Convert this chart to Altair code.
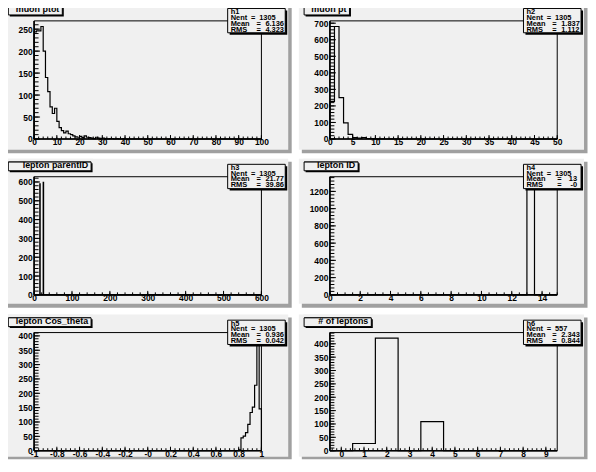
import altair as alt
import numpy as np
import pandas as pd

FONT = "Liberation Sans"
PAD = "#f0f0f0"
SHADOW = "#a0a0a0"
W, H = 229, 119

# ---------------- values ----------------
titles = ["muon ptot", "muon pt", "lepton parentID", "lepton ID", "lepton Cos_theta", "# of leptons"]
hist_names = ["h1", "h2", "h3", "h4", "h5", "h6"]
stat_nent = ["1305", "1305", "1305", "1305", "1305", "557"]
stat_mean = ["6.136", "1.837", "21.77", "13", "0.9369", "2.343"]
stat_rms = ["4.323", "1.112", "39.86", "-0", "0.0427", "0.8448"]

# (low edge, high edge, number of bins)
hist_ranges = [(0, 100, 100), (0, 50, 50), (0, 600, 600), (0, 15, 30), (-1, 1, 100), (-0.5, 9.5, 10)]

ptot_counts = [244, 246, 246, 256, 200, 140, 108, 73, 58, 70,
               40, 26, 19, 14, 18, 12, 10, 7, 5, 4,
               6, 3, 7, 4, 3, 2, 1, 4, 2, 1,
               2, 1, 0, 1, 1, 0, 1, 0, 0, 1]
pt_counts = [228, 680, 250, 97, 28, 8, 5, 9, 3, 2, 1, 1, 0, 1]
parent_counts = {15: 590, 24: 598}          # bin index -> entries
lepid_counts = {26: 1305}
cos_counts = {90: 3, 91: 45, 92: 51, 93: 63, 94: 92, 95: 133, 96: 152, 97: 228, 98: 392, 99: 146}
nlep_counts = [0, 27, 421, 0, 109, 0, 0, 0, 0, 0]
raw_counts = [ptot_counts, pt_counts, parent_counts, lepid_counts, cos_counts, nlep_counts]

# axis label ranges (first, last, step) and minor tick steps
x_label_spec = [(0, 100, 10), (0, 50, 5), (0, 600, 100), (0, 14, 2), (-1, 1, 0.2), (0, 9, 1)]
x_minus_zero = [False, False, False, False, True, False]
x_minor_step = [2, 1, 20, 0.5, 0.04, 0.2]
y_major_step = [50, 100, 100, 200, 50, 50]
y_minor_step = [10, 20, 20, 40, 10, 10]

# ---------------- layout constants (pixels, relative to each frame) ----------------
title_right = [28.4, 19.7, 57.4, 28.4, 57.4, 41.7]
pad_x = (-31.3, 256.0, 259.5)
pad_top = [-16.3, -18.0, -18.3]
pad_bot = [H + 10.7, H + 9.0, H + 6.0]
pad_shadow_bot = [H + 14.4, H + 13.0, H + 8.7]


def dense(n, vals):
    arr = [0] * n
    if isinstance(vals, dict):
        for k, v in vals.items():
            arr[k] = v
    else:
        for k, v in enumerate(vals):
            arr[k] = v
    return arr


def ticks(lo, hi, step):
    k0 = int(np.ceil(lo / step - 1e-9))
    k1 = int(np.floor(hi / step + 1e-9))
    return [round(k * step, 6) for k in range(k0, k1 + 1)]


def outline(lo, hi, counts):
    n = len(counts)
    w = (hi - lo) / n
    xs, ys = [lo], [0]
    for i, c in enumerate(counts):
        a = lo + i * w
        xs += [a, a + w]
        ys += [c, c]
    xs.append(hi)
    ys.append(0)
    return pd.DataFrame({"x": np.round(xs, 6), "y": ys, "o": range(len(xs))})


one = pd.DataFrame({"k": [0]})


def box(x, x2, y, y2, **kw):
    return alt.Chart(one).mark_rect(**kw).encode(
        x=alt.value(x), x2=alt.value(x2), y=alt.value(y), y2=alt.value(y2))


def hline(x, x2, y, width=1.0):
    return alt.Chart(one).mark_rule(color="black", strokeWidth=width).encode(
        x=alt.value(x), x2=alt.value(x2), y=alt.value(y))


def vline(x, y, y2, width=1.0):
    return alt.Chart(one).mark_rule(color="black", strokeWidth=width).encode(
        x=alt.value(x), y=alt.value(y), y2=alt.value(y2))


def label(text, x, y, align="left", size=8, **kw):
    return alt.Chart(one).mark_text(
        text=text, align=align, baseline="alphabetic", font=FONT, fontSize=size,
        fontWeight="bold", color="black", **kw).encode(x=alt.value(x), y=alt.value(y))


def panel(i):
    lo, hi, n = hist_ranges[i]
    counts = dense(n, raw_counts[i])
    col, row = i % 2, i // 2
    ymax = 1.05 * max(counts)
    xsc = alt.Scale(domain=[lo, hi], nice=False, zero=False)
    ysc = alt.Scale(domain=[0, ymax], nice=False, zero=False)

    common = dict(labelFont=FONT, labelFontSize=8.5, labelFontWeight="bold", labelColor="black",
                  ticks=False, domain=False, grid=False, title=None, labelOverlap=False, zindex=1)
    xexpr = "datum.value == 0 ? '-0' : '' + datum.value" if x_minus_zero[i] else "'' + datum.value"
    xaxis = alt.Axis(values=ticks(*x_label_spec[i]), labelExpr=xexpr, labelPadding=-1,
                     labelFlush=False, **common)
    yaxis = alt.Axis(values=ticks(0, ymax, y_major_step[i]), labelExpr="'' + datum.value",
                     labelPadding=2, **common)

    layers = []
    # pad with shadow
    layers.append(box(pad_x[0] + 3, pad_x[2], pad_top[row] + 3, pad_shadow_bot[row], fill=SHADOW))
    layers.append(box(pad_x[0], pad_x[1], pad_top[row], pad_bot[row], fill=PAD))
    # frame
    layers.append(box(0, W, 0, H, fill=PAD, stroke="black", strokeWidth=1))
    # histogram outline
    layers.append(alt.Chart(outline(lo, hi, counts)).mark_line(
        color="black", strokeWidth=1.2, interpolate="linear").encode(
        x=alt.X("x:Q", scale=xsc, axis=xaxis),
        y=alt.Y("y:Q", scale=ysc, axis=yaxis),
        order=alt.Order("o:Q")))
    # tick marks drawn inside the frame (ROOT style)
    xmaj = pd.DataFrame({"x": ticks(*x_label_spec[i])})
    xmin_ = pd.DataFrame({"x": ticks(lo, hi, x_minor_step[i])})
    ymaj = pd.DataFrame({"y": ticks(0, ymax, y_major_step[i])})
    ymin_ = pd.DataFrame({"y": ticks(0, ymax, y_minor_step[i])})
    for df, L in ((xmin_, 2.5), (xmaj, 4)):
        layers.append(alt.Chart(df).mark_rule(color="black", strokeWidth=1).encode(
            x=alt.X("x:Q", scale=xsc, axis=xaxis), y=alt.value(H), y2=alt.value(H - L)))
    for df, L in ((ymin_, 4.5), (ymaj, 6)):
        layers.append(alt.Chart(df).mark_rule(color="black", strokeWidth=1).encode(
            y=alt.Y("y:Q", scale=ysc, axis=yaxis), x=alt.value(0), x2=alt.value(L)))
    # axis lines
    layers.append(hline(0, W, H, 1.6))
    layers.append(vline(0, 0, H, 1.6))

    # title box (text cut at the top like the reference)
    R = title_right[i]
    layers.append(box(-24.5, R + 1.5, -13.5, -4.5, fill="black"))
    layers.append(box(-26, R, -15, -6, fill=PAD, stroke="black", strokeWidth=1))
    layers.append(label(titles[i], R - 3, -8.5, align="right", size=9))
    layers.append(box(-27, R + 2, pad_top[row], -15, fill=PAD))
    layers.append(hline(-26, R, -15))

    # stats box
    layers.append(box(197, 255, -10.5, 14, fill="black"))
    layers.append(box(195, 253, -12.5, 12, fill=PAD, stroke="black", strokeWidth=1))
    layers.append(label(hist_names[i], 198, -7.0, size=7.5))
    layers.append(label("Nent", 198, -1.2, size=7.5))
    layers.append(label("=", 218.4, -1.2, size=7.5))
    layers.append(label(stat_nent[i], 226.7, -1.2, size=7.5))
    for name, val, yb in (("Mean", stat_mean[i], 4.8), ("RMS", stat_rms[i], 10.8)):
        layers.append(label(name, 198, yb, size=7.5))
        if len(val) <= 2:
            layers.append(label("=", 229, yb, size=7.5))
            layers.append(label(val, 249, yb, align="right", size=7.5))
        else:
            layers.append(label("=", 224, yb, size=7.5))
            layers.append(label(val, 233, yb, size=7.5, limit=22, ellipsis=" "))

    if i == 0:
        # invisible anchor that fixes the chart origin
        layers.append(box(-40, -39, -30, -29, fill="white"))

    return alt.layer(*layers).properties(width=W, height=H)


panels = [panel(i) for i in range(6)]

chart = alt.concat(
    *panels, columns=2, spacing={"row": 38, "column": 69}, bounds="flush"
).properties(
    padding={"left": -13.7, "top": -18.7, "right": 0, "bottom": 0},
    background="white",
).configure_view(stroke=None)

chart.save("out.html", embed_options={"renderer": "svg", "actions": False})
